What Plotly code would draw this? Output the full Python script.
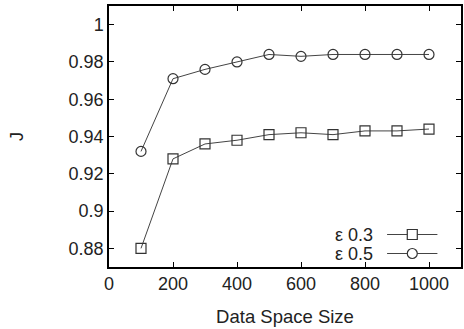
import plotly.graph_objects as go

x_sizes = [100, 200, 300, 400, 500, 600, 700, 800, 900, 1000]
j_eps03 = [0.880, 0.928, 0.936, 0.938, 0.941, 0.942, 0.941, 0.943, 0.943, 0.944]
j_eps05 = [0.932, 0.971, 0.976, 0.980, 0.984, 0.983, 0.984, 0.984, 0.984, 0.984]
series_names = ["ε 0.3", "ε 0.5"]
x_ticks = [0, 200, 400, 600, 800, 1000]
y_ticks = [0.88, 0.90, 0.92, 0.94, 0.96, 0.98, 1.00]
y_tick_labels = ["0.88", "0.9", "0.92", "0.94", "0.96", "0.98", "1"]

FONT = "Liberation Sans, Arial, sans-serif"
LINE_C = "#444444"
MARK_C = "#333333"
TXT_C = "#222222"

fig = go.Figure()
fig.add_trace(go.Scatter(x=x_sizes, y=j_eps03, mode="lines+markers", name=series_names[0],
                         line=dict(color=LINE_C, width=1),
                         marker=dict(symbol="square-open", size=10, color=MARK_C, line=dict(width=1.2))))
fig.add_trace(go.Scatter(x=x_sizes, y=j_eps05, mode="lines+markers", name=series_names[1],
                         line=dict(color=LINE_C, width=1),
                         marker=dict(symbol="circle-open", size=10, color=MARK_C, line=dict(width=1.2))))

# manual gnuplot-style legend (text left, sample right)
leg_y = [0.1245, 0.0517]
lx0, lx1, lxm, ltx = 0.790, 0.933, 0.8616, 0.757
shapes = []
annotations = []
for i, name in enumerate(series_names):
    y = leg_y[i]
    shapes.append(dict(type="line", xref="paper", yref="paper", x0=lx0, x1=lx1, y0=y, y1=y,
                       line=dict(color=LINE_C, width=1)))
    shapes.append(dict(type="rect" if i == 0 else "circle", xref="paper", yref="paper",
                       xsizemode="pixel", ysizemode="pixel", xanchor=lxm, yanchor=y,
                       x0=-5, x1=5, y0=-5, y1=5, fillcolor="white",
                       line=dict(color=MARK_C, width=1.2)))
    annotations.append(dict(text=name, xref="paper", yref="paper", x=ltx, y=y,
                            xanchor="right", yanchor="middle", showarrow=False,
                            font=dict(family=FONT, size=18, color=TXT_C)))

fig.update_layout(
    width=464, height=329,
    margin=dict(l=109, r=1, t=6, b=62),
    paper_bgcolor="white", plot_bgcolor="white",
    showlegend=False,
    font=dict(family=FONT, size=18, color=TXT_C),
    shapes=shapes, annotations=annotations,
    xaxis=dict(range=[0, 1100], tickvals=x_ticks, ticks="inside", ticklen=5, tickcolor="black",
               showline=True, linecolor="black", linewidth=1.5, mirror="ticks",
               showgrid=False, zeroline=False,
               title=dict(text="Data Space Size", standoff=17,
                          font=dict(family=FONT, size=18.5, color=TXT_C)),
               tickfont=dict(size=18)),
    yaxis=dict(range=[0.87, 1.01], tickvals=y_ticks, ticktext=y_tick_labels,
               ticks="inside", ticklen=5, tickcolor="black",
               showline=True, linecolor="black", linewidth=1.5, mirror="ticks",
               showgrid=False, zeroline=False,
               title=dict(text="J", standoff=40,
                          font=dict(family=FONT, size=18, color=TXT_C)),
               tickfont=dict(size=18)),
)

fig.write_html("out.html")
